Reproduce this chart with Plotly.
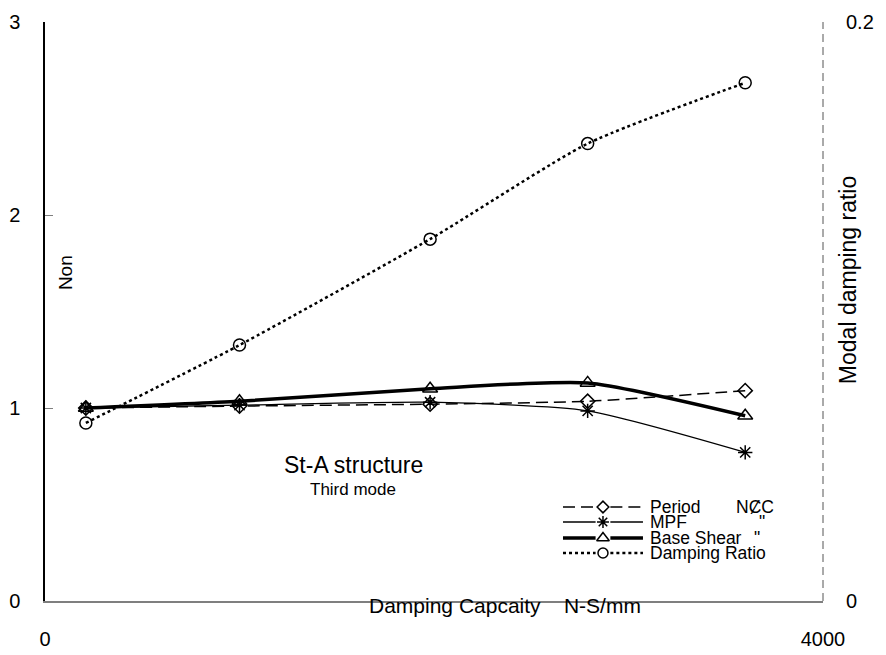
import plotly.graph_objects as go

damping_capacity = [210, 1000, 1980, 2790, 3600]
period = [1.0, 1.01, 1.02, 1.035, 1.09]
mpf = [1.0, 1.015, 1.03, 0.985, 0.77]
base_shear = [1.0, 1.035, 1.10, 1.13, 0.96]
damping_ratio = [0.0615, 0.0884, 0.125, 0.158, 0.179]

series_names = ["Period", "MPF", "Base Shear", "Damping Ratio"]
series_units = ["NȻC", "\"", "\"", ""]

FONT = "Liberation Sans, Arial, sans-serif"

styles = [
    dict(line=dict(color="black", width=1.5, dash="12px,6px", shape="spline", smoothing=0.6),
         marker=dict(symbol="diamond-open", size=11, color="black", line=dict(width=1.5))),
    dict(line=dict(color="black", width=1.3, shape="spline", smoothing=0.6),
         marker=dict(symbol="asterisk-open", size=12, color="black", line=dict(width=1.5, color="black"))),
    dict(line=dict(color="black", width=3.5, shape="spline", smoothing=0.6),
         marker=dict(symbol="triangle-up-open", size=13, color="black", line=dict(width=1.5))),
    dict(line=dict(color="black", width=2.5, dash="dot", shape="spline", smoothing=0.6),
         marker=dict(symbol="circle-open", size=12, color="black", line=dict(width=1.5))),
]
values = [period, mpf, base_shear, damping_ratio]

fig = go.Figure()
for i, (name, ys) in enumerate(zip(series_names, values)):
    fig.add_trace(go.Scatter(x=damping_capacity, y=ys, name=name, mode="lines+markers",
                             yaxis="y2" if i == 3 else "y",
                             line=styles[i]["line"], marker=styles[i]["marker"], showlegend=False))

# custom compact legend (paper-like helper axes spanning the plot area)
leg_x0, leg_x1, leg_xt = 0.6658, 0.7686, 0.775
leg_xc = (leg_x0 + leg_x1) / 2
gap = 0.0095
leg_rows = [0.1623, 0.1364, 0.1088, 0.0829]
shapes = [dict(type="line", xref="paper", yref="paper", x0=1, x1=1, y0=0, y1=1,
               line=dict(color="#555555", width=1, dash="8px,5px"))]
annotations = []
for i, name in enumerate(series_names):
    ln = styles[i]["line"]
    for a, b in ((leg_x0, leg_xc - gap), (leg_xc + gap, leg_x1)):
        shapes.append(dict(type="line", xref="paper", yref="paper", x0=a, x1=b,
                           y0=leg_rows[i], y1=leg_rows[i],
                           line=dict(color="black", width=ln["width"], dash=ln.get("dash", "solid"))))
    mk = dict(styles[i]["marker"])
    mk["size"] = mk["size"] - 2
    fig.add_trace(go.Scatter(x=[leg_xc], y=[leg_rows[i]], xaxis="x2", yaxis="y3", mode="markers",
                             marker=mk, showlegend=False, hoverinfo="skip"))
    annotations.append(dict(text=name, x=leg_xt, y=leg_rows[i], xref="paper", yref="paper",
                            xanchor="left", yanchor="middle", showarrow=False, font=dict(size=17.5)))
unit_x = [0.9126, 0.9216, 0.9152]
for i in range(3):
    annotations.append(dict(text=series_units[i], x=unit_x[i], y=leg_rows[i], xref="paper", yref="paper",
                            xanchor="center", yanchor="middle", showarrow=False, font=dict(size=17.5)))

annotations += [
    dict(text="St-A structure", x=0.396, y=0.235, xref="paper", yref="paper", showarrow=False,
         xanchor="center", yanchor="middle", font=dict(size=23)),
    dict(text="Third mode", x=0.396, y=0.192, xref="paper", yref="paper", showarrow=False,
         xanchor="center", yanchor="middle", font=dict(size=17)),
    dict(text="Non", x=0.0257, y=0.568, xref="paper", yref="paper", showarrow=False,
         xanchor="center", yanchor="middle", textangle=-90, font=dict(size=19)),
    dict(text="Modal damping ratio", x=1.032, y=0.554, xref="paper", yref="paper", showarrow=False,
         xanchor="center", yanchor="middle", textangle=-90, font=dict(size=23)),
    dict(text="Damping Capcaity    N-S/mm", x=0.591, y=-0.0086, xref="paper", yref="paper",
         showarrow=False, xanchor="center", yanchor="middle", font=dict(size=21)),
]

fig.update_layout(
    width=886, height=655,
    margin=dict(l=45, r=63, t=22, b=54),
    paper_bgcolor="white", plot_bgcolor="white",
    font=dict(family=FONT, color="black", size=20),
    showlegend=False,
    xaxis=dict(range=[0, 4000], tickvals=[0, 4000], ticktext=["0", "4000"], showgrid=False,
               zeroline=False, showline=True, linecolor="#7f7f7f", linewidth=1.5, ticks="",
               ticklabelstandoff=19, tickfont=dict(size=20), automargin=False),
    xaxis2=dict(range=[0, 1], overlaying="x", visible=False, automargin=False),
    yaxis=dict(range=[0, 3], tickvals=[0, 1, 2, 3], showgrid=False, zeroline=False,
               showline=True, linecolor="black", linewidth=1.5, ticks="inside", ticklen=8,
               tickcolor="#7f7f7f", ticklabelstandoff=19, tickfont=dict(size=20), automargin=False),
    yaxis2=dict(range=[0, 0.2], tickvals=[0, 0.2], ticktext=["0", "0.2"], overlaying="y", side="right",
                showgrid=False, zeroline=False, showline=False, ticks="inside", ticklen=6,
                tickcolor="#7f7f7f", ticklabelstandoff=22, tickfont=dict(size=20), automargin=False),
    yaxis3=dict(range=[0, 1], overlaying="y", visible=False, automargin=False),
    shapes=shapes,
    annotations=annotations,
)

fig.write_html("out.html")
